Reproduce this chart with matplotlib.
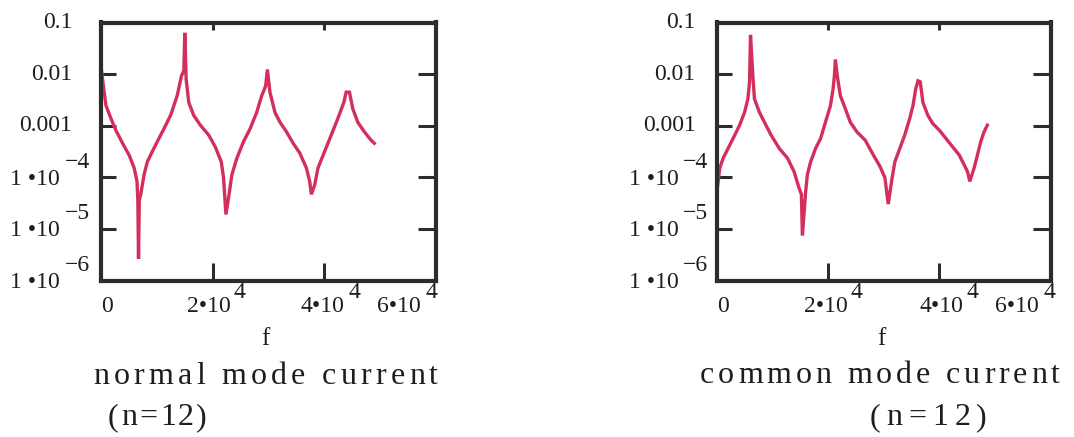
import matplotlib
matplotlib.use('Agg')
import matplotlib.pyplot as plt
import numpy as np
from matplotlib.ticker import NullLocator
from matplotlib.transforms import offset_copy

# values (f in Hz, log10 of current)
normal_f = [0, 500, 890, 1780, 2670, 3860, 5040, 5940, 6450, 6600,
            6720, 6850, 7120, 7710, 8300, 9190, 10080, 11270, 12460, 13640,
            14420, 14830, 15010, 15250, 15720, 16610, 17800, 19280, 20470, 21540,
            21950, 22370, 22840, 23440, 24330, 25520, 26700, 27890, 28780, 29490,
            29800, 30260, 31150, 32040, 33230, 34410, 35600, 36790, 37380, 37670,
            38270, 38860, 40050, 41240, 42420, 43490, 43910, 44500, 45090, 45980,
            47170, 48360, 48950]
normal_log = [-1.85, -2.29, -2.61, -2.86, -3.09, -3.34, -3.57, -3.82, -4.08, -4.46,
              -5.58, -4.45, -4.33, -3.95, -3.70, -3.50, -3.31, -3.06, -2.80, -2.42,
              -2.03, -1.94, -1.20, -2.10, -2.55, -2.80, -2.99, -3.18, -3.41, -3.70,
              -4.01, -4.72, -4.40, -3.95, -3.63, -3.31, -3.06, -2.74, -2.42, -2.23,
              -1.91, -2.35, -2.74, -2.93, -3.12, -3.34, -3.53, -3.82, -4.08, -4.33,
              -4.15, -3.82, -3.50, -3.18, -2.86, -2.55, -2.35, -2.35, -2.67, -2.93,
              -3.12, -3.28, -3.34]

common_f = [200, 590, 1190, 2080, 2970, 4150, 5040, 5640, 5930, 6110,
            6530, 6820, 7710, 8600, 9790, 11270, 12760, 13940, 14830, 15250,
            15430, 16020, 16320, 16910, 17800, 18690, 19580, 20470, 20940, 21180,
            21360, 21650, 22250, 23140, 24030, 25220, 26700, 28190, 29370, 30260,
            30850, 31450, 32040, 32930, 33820, 34710, 35300, 35780, 36190, 36600,
            37080, 37970, 38860, 40050, 41240, 42420, 43610, 44500, 45090, 45510,
            46280, 46870, 47470, 48060, 48650]
common_log = [-4.17, -3.82, -3.63, -3.44, -3.25, -2.99, -2.74, -2.48, -2.16, -1.24,
              -2.03, -2.48, -2.74, -2.93, -3.18, -3.44, -3.63, -3.89, -4.21, -4.33,
              -5.13, -4.27, -3.95, -3.70, -3.44, -3.25, -2.93, -2.61, -2.29, -2.03,
              -1.72, -2.00, -2.42, -2.67, -2.93, -3.12, -3.28, -3.57, -3.79, -4.01,
              -4.52, -4.08, -3.70, -3.44, -3.18, -2.86, -2.61, -2.29, -2.13, -2.15,
              -2.55, -2.80, -2.96, -3.09, -3.25, -3.41, -3.57, -3.76, -3.89, -4.08,
              -3.82, -3.57, -3.31, -3.12, -2.99]

y_decimals = [(1e-1, '0.1'), (1e-2, '0.01'), (1e-3, '0.001')]
y_powers = [(1e-4, '\u22124'), (1e-5, '\u22125'), (1e-6, '\u22126')]
x_ticks = [2e4, 4e4]

W, H = 1074, 437
SERIF = 'Liberation Serif'
INK = '#2a2d2a'
RED = '#d42f5c'
TXT = '#1e1e1e'
TICKSIZE = 17

fig = plt.figure(figsize=(W / 100, H / 100), dpi=100)
renderer = fig.canvas.get_renderer()


def make_axes(x0, y0, x1, y1):
    return fig.add_axes([x0 / W, 1 - y1 / H, (x1 - x0) / W, (y1 - y0) / H])


def text_width(s, size):
    t = fig.text(0, 0, s, fontsize=size, family=SERIF)
    w = t.get_window_extent(renderer).width
    t.remove()
    return w


def spaced_text(s, x0, x1, ybase, size):
    # letter-spaced text stretched between x0 and x1 (pixels)
    widths = []
    for ch in s:
        if ch == ' ':
            widths.append(text_width('x x', size) - text_width('xx', size))
        else:
            widths.append(text_width(ch, size))
    gap = (x1 - x0 - sum(widths)) / (len(s) - 1)
    x = x0
    for ch, w in zip(s, widths):
        fig.text(x / W, 1 - ybase / H, ch, fontsize=size, family=SERIF,
                 ha='left', va='baseline', color=TXT)
        x += w + gap


def setup(ax, f, logv, dec_dx, pow_dx, exp_dx, xlab):
    ax.plot(f, 10 ** np.array(logv), color=RED, lw=2.4, solid_joinstyle='miter')
    ax.set_yscale('log')
    ax.set_xlim(0, 6e4)
    ax.set_ylim(1e-6, 1e-1)
    for s in ax.spines.values():
        s.set_linewidth(3)
        s.set_color(INK)
    ax.set_xticks(x_ticks)
    ax.set_yticks([1e-2, 1e-3, 1e-4, 1e-5])
    ax.yaxis.set_minor_locator(NullLocator())
    ax.tick_params(axis='x', direction='in', length=13, width=2.2, color=INK,
                   top=False, labelbottom=False)
    ax.tick_params(axis='y', direction='in', length=11, width=2.2, color=INK,
                   right=False, labelleft=False)
    top = ax.secondary_xaxis('top')
    top.set_xticks(x_ticks)
    top.tick_params(direction='in', length=6, width=2.2, color=INK, labeltop=False)
    top.spines['top'].set_visible(False)
    right = ax.secondary_yaxis('right')
    right.set_yticks([1e-2, 1e-3, 1e-4, 1e-5])
    right.yaxis.set_minor_locator(NullLocator())
    right.tick_params(direction='in', length=13, width=2.2, color=INK, labelright=False)
    right.spines['right'].set_visible(False)

    kw = dict(fontsize=TICKSIZE, family=SERIF, color=TXT)
    ytr = ax.get_yaxis_transform()
    for v, s in y_decimals:
        ax.text(0, v, s, transform=offset_copy(ytr, fig=fig, x=dec_dx, y=0, units='dots'),
                ha='right', va='center', **kw)
    for v, e in y_powers:
        ax.text(0, v, '1 \u202210', transform=offset_copy(ytr, fig=fig, x=pow_dx, y=-2, units='dots'),
                ha='right', va='center', **kw)
        ax.text(0, v, e, transform=offset_copy(ytr, fig=fig, x=exp_dx, y=15, units='dots'),
                ha='left', va='center', **kw)

    xtr = ax.get_xaxis_transform()
    ax.text(0, 0, '0', transform=offset_copy(xtr, fig=fig, x=6, y=-26, units='dots'),
            ha='center', va='center', **kw)
    for v, bdx, edx in xlab:
        ax.text(v, 0, '%d\u202210' % (v / 1e4),
                transform=offset_copy(xtr, fig=fig, x=bdx, y=-26, units='dots'),
                ha='right', va='center', **kw)
        ax.text(v, 0, '4', transform=offset_copy(xtr, fig=fig, x=edx, y=-12, units='dots'),
                ha='left', va='center', **kw)


ax1 = make_axes(101, 22.5, 436, 280.5)
setup(ax1, normal_f, normal_log, -29, -41, -36,
      [(2e4, 18, 21), (4e4, 20, 24), (6e4, -15, -10)])
ax2 = make_axes(716.5, 22.5, 1050.5, 280.5)
setup(ax2, common_f, common_log, -21, -38, -34,
      [(2e4, 20, 23), (4e4, 24, 27), (6e4, -12, -7)])

fig.text(265 / W, 1 - 345 / H, 'f', fontsize=18, family=SERIF, ha='center',
         va='baseline', color=TXT)
fig.text(881 / W, 1 - 345 / H, 'f', fontsize=18, family=SERIF, ha='center',
         va='baseline', color=TXT)

spaced_text('normal mode current', 93, 438, 384, 23)
spaced_text('(n=12)', 108, 207, 425, 23)
spaced_text('common mode current', 700, 1060, 383, 23)
spaced_text('(n=12)', 870, 987, 425, 23)

fig.savefig('out.png', dpi=100)
